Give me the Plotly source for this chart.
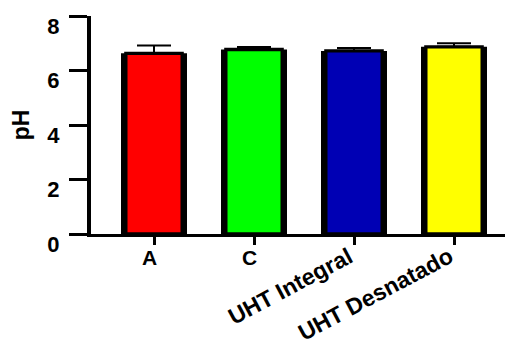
import plotly.graph_objects as go

categories = ["A", "C", "UHT Integral", "UHT Desnatado"]
ph_mean = [6.63, 6.77, 6.72, 6.87]
ph_err = [0.29, 0.09, 0.11, 0.13]
bar_colors = ["#ff0000", "#00ff00", "#0000b4", "#ffff00"]
y_ticks = [0, 2, 4, 6, 8]
label_angles = [0, 0, -28, -28]

x_pos = list(range(len(categories)))
FONT = "Liberation Sans, Arial, sans-serif"

fig = go.Figure()
# black outer body
fig.add_trace(go.Bar(x=x_pos, y=ph_mean, width=0.66, marker=dict(color="black", line=dict(width=0)),
                     showlegend=False, hoverinfo="skip"))
# coloured fill with thin black top border and upper error bar
fig.add_trace(go.Bar(x=x_pos, y=ph_mean, width=0.563,
                     marker=dict(color=bar_colors, line=dict(color="black", width=3.3)),
                     error_y=dict(type="data", array=ph_err, arrayminus=[0] * len(ph_err), symmetric=False,
                                  color="black", thickness=2, width=17),
                     showlegend=False))

for i, (cat, ang) in enumerate(zip(categories, label_angles)):
    if ang == 0:
        fig.add_annotation(x=i, y=0, xref="x", yref="y", text=cat, showarrow=False,
                           xanchor="center", yanchor="top", xshift=-5, yshift=-10, textangle=0,
                           font=dict(family=FONT, size=21, color="black", weight="bold"))
    else:
        fig.add_annotation(x=i, y=0, xref="x", yref="y", text=cat, showarrow=False,
                           xanchor="right", yanchor="top", xshift=6, yshift=-6, textangle=ang,
                           font=dict(family=FONT, size=23, color="black", weight="bold"))

fig.update_layout(
    width=513, height=347,
    margin=dict(l=83, r=0, t=8, b=120.5),
    paper_bgcolor="white", plot_bgcolor="white",
    barmode="overlay",
    font=dict(family=FONT, color="black"),
    xaxis=dict(range=[-0.63, 3.67], tickvals=x_pos, ticktext=[""] * len(x_pos), showticklabels=True,
               automargin=False,
               showline=True, linecolor="black", linewidth=3, ticks="outside", ticklen=8, tickwidth=3,
               tickcolor="black", showgrid=False, zeroline=False, fixedrange=True),
    yaxis=dict(range=[0, 8], tickvals=y_ticks, ticktext=[str(v) for v in y_ticks], automargin=False,
               showline=True, linecolor="black", linewidth=4, ticks="outside", ticklen=18, tickwidth=2.5,
               tickcolor="black", showgrid=False, zeroline=False, ticklabelshift=10, ticklabelstandoff=5,
               tickfont=dict(family=FONT, size=22, color="black", weight="bold"),
               title=dict(text="pH", standoff=20, font=dict(family=FONT, size=23, color="black", weight="bold"))),
)

fig.write_html("out.html")
